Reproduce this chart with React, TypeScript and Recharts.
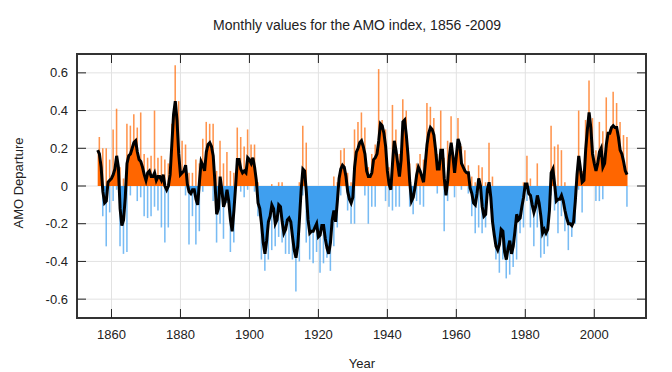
import { ComposedChart, Area, Bar, Line, XAxis, YAxis, CartesianGrid, ReferenceArea } from 'recharts';

// AMO index, smoothed curve every half year from 1856.0
const START_YEAR = 1856;
const smooth = [
    0.19, 0.17, 0.10, -0.03, -0.09, -0.08, 0.02, 0.03, // 1856-1859
    0.04, 0.06, 0.09, 0.16, 0.10, -0.12, -0.21, -0.18, -0.06, 0.12, // 1860-1864
    0.16, 0.17, 0.20, 0.23, 0.24, 0.18, 0.14, 0.13, 0.10, 0.06, // 1865-1869
    0.03, 0.07, 0.08, 0.05, 0.05, 0.07, 0.03, 0.05, 0.05, 0.03, // 1870-1874
    0.06, 0.00, -0.02, 0.00, 0.06, 0.22, 0.38, 0.45, 0.35, 0.17, // 1875-1879
    0.06, 0.07, 0.08, 0.11, 0.01, -0.03, -0.04, -0.02, -0.02, -0.07, // 1880-1884
    -0.10, 0.02, 0.13, 0.11, 0.08, 0.18, 0.22, 0.23, 0.21, 0.16, // 1885-1889
    0.02, -0.15, -0.12, 0.05, -0.02, -0.11, -0.08, -0.02, -0.08, -0.18, // 1890-1894
    -0.24, -0.13, 0.00, 0.14, 0.14, 0.09, 0.07, 0.08, 0.07, 0.15, // 1895-1899
    0.14, 0.12, 0.15, 0.10, 0.03, -0.09, -0.12, -0.20, -0.30, -0.36, // 1900-1904
    -0.29, -0.19, -0.16, -0.10, -0.12, -0.20, -0.18, -0.10, -0.11, -0.19, // 1905-1909
    -0.25, -0.23, -0.18, -0.17, -0.19, -0.27, -0.34, -0.38, -0.32, -0.18, // 1910-1914
    -0.02, 0.09, 0.08, -0.03, -0.18, -0.25, -0.24, -0.24, -0.22, -0.20, // 1915-1919
    -0.27, -0.26, -0.21, -0.21, -0.28, -0.33, -0.36, -0.30, -0.18, -0.13, // 1920-1924
    -0.19, -0.08, 0.04, 0.09, 0.11, 0.10, 0.05, -0.03, -0.07, -0.09, // 1925-1929
    -0.06, 0.10, 0.18, 0.20, 0.23, 0.24, 0.21, 0.17, 0.08, 0.05, // 1930-1934
    0.05, 0.07, 0.14, 0.15, 0.17, 0.24, 0.33, 0.32, 0.28, 0.21, // 1935-1939
    0.08, 0.01, -0.02, 0.12, 0.24, 0.19, 0.12, 0.05, 0.14, 0.34, // 1940-1944
    0.35, 0.27, 0.16, 0.02, -0.08, -0.06, -0.01, 0.06, 0.10, 0.08, // 1945-1949
    0.05, 0.02, 0.12, 0.22, 0.28, 0.31, 0.30, 0.27, 0.19, 0.09, // 1950-1954
    0.09, 0.19, 0.19, 0.04, -0.05, 0.03, 0.16, 0.23, 0.16, 0.07, // 1955-1959
    0.16, 0.25, 0.22, 0.12, 0.10, 0.08, 0.07, 0.07, -0.01, -0.04, // 1960-1964
    -0.09, -0.10, -0.04, 0.04, 0.00, -0.11, -0.16, -0.15, -0.02, 0.02, // 1965-1969
    -0.06, -0.19, -0.26, -0.32, -0.34, -0.31, -0.23, -0.24, -0.35, -0.39, // 1970-1974
    -0.33, -0.29, -0.36, -0.32, -0.24, -0.15, -0.18, -0.17, -0.11, -0.06, // 1975-1979
    0.01, 0.01, -0.04, -0.05, -0.10, -0.14, -0.11, -0.05, -0.09, -0.16, // 1980-1984
    -0.25, -0.23, -0.25, -0.23, -0.13, 0.07, 0.09, 0.01, -0.08, -0.07, // 1985-1989
    -0.07, -0.05, -0.08, -0.13, -0.17, -0.20, -0.20, -0.21, -0.19, -0.08, // 1990-1994
    0.06, 0.16, 0.09, 0.02, 0.03, 0.19, 0.30, 0.39, 0.31, 0.17, // 1995-1999
    0.12, 0.08, 0.12, 0.18, 0.20, 0.10, 0.12, 0.22, 0.28, 0.28, // 2000-2004
    0.31, 0.32, 0.31, 0.31, 0.26, 0.19, 0.17, 0.13, 0.08, 0.06 // 2005-2009
];

// highest and lowest monthly value in each year, 1856-2009
const monthlyHigh = [
    0.26, 0.20, 0.20, 0.14,
    0.30, 0.41, 0.10, 0.04, 0.33, 0.32, 0.38, 0.31, 0.39, 0.17,
    0.15, 0.16, 0.40, 0.15, 0.16, 0.14, 0.12, 0.33, 0.64, 0.45,
    0.24, 0.22, 0.07, 0.07, 0.14, 0.12, 0.25, 0.34, 0.33, 0.33,
    0.08, 0.24, 0.12, 0.18, 0.08, 0.07, 0.31, 0.26, 0.21, 0.30,
    0.22, 0.22, 0.02, 0.00, 0.00, 0.00, 0.01, 0.00, 0.02, 0.02,
    0.00, 0.00, 0.00, 0.00, 0.02, 0.32, 0.23, 0.00, 0.00, 0.00,
    0.00, 0.00, 0.00, 0.00, 0.05, 0.02, 0.19, 0.20, 0.07, 0.02,
    0.30, 0.34, 0.39, 0.31, 0.10, 0.17, 0.22, 0.62, 0.35, 0.30,
    0.10, 0.43, 0.30, 0.17, 0.46, 0.40, 0.12, 0.00, 0.12, 0.17,
    0.14, 0.44, 0.42, 0.36, 0.17, 0.40, 0.15, 0.24, 0.37, 0.15,
    0.36, 0.21, 0.19, 0.11, 0.05, 0.02, 0.11, 0.10, 0.02, 0.23,
    0.05, 0.00, 0.00, 0.00, 0.00, 0.00, 0.00, 0.00, 0.00, 0.02,
    0.16, 0.04, 0.00, 0.12, 0.00, 0.00, 0.00, 0.32, 0.21, 0.22,
    0.19, 0.02, 0.00, 0.00, 0.00, 0.40, 0.08, 0.35, 0.56, 0.36,
    0.19, 0.34, 0.29, 0.47, 0.30, 0.50, 0.44, 0.34, 0.27, 0.26
];
const monthlyLow = [
    0.00, -0.16, -0.32, -0.14,
    -0.08, -0.02, -0.32, -0.36, -0.35, -0.05, 0.00, -0.08, -0.06, -0.16,
    -0.17, -0.16, -0.11, -0.13, -0.22, -0.30, -0.22, 0.00, 0.00, 0.00,
    0.00, -0.05, -0.31, -0.16, -0.31, -0.24, -0.03, 0.00, 0.00, -0.08,
    -0.30, -0.20, -0.28, -0.09, -0.35, -0.30, 0.00, -0.03, -0.06, -0.02,
    0.00, -0.03, -0.16, -0.39, -0.45, -0.39, -0.34, -0.32, -0.27, -0.30,
    -0.36, -0.36, -0.39, -0.56, -0.40, -0.05, -0.30, -0.39, -0.41, -0.35,
    -0.46, -0.41, -0.38, -0.45, -0.32, -0.22, -0.05, 0.00, -0.13, -0.20,
    -0.20, 0.00, 0.00, -0.05, -0.20, -0.11, -0.11, 0.00, 0.00, -0.08,
    -0.11, -0.13, -0.11, -0.11, 0.00, 0.00, -0.11, -0.15, -0.08, -0.10,
    -0.11, 0.00, 0.00, 0.00, -0.04, 0.00, -0.24, -0.08, 0.00, -0.06,
    0.00, -0.02, 0.00, -0.04, -0.16, -0.25, -0.22, -0.25, -0.22, -0.02,
    -0.18, -0.39, -0.46, -0.39, -0.49, -0.47, -0.43, -0.39, -0.25, -0.22,
    -0.08, -0.22, -0.32, -0.22, -0.38, -0.36, -0.32, -0.05, -0.13, -0.25,
    -0.16, -0.24, -0.34, -0.27, -0.20, -0.02, -0.14, 0.00, 0.00, 0.00,
    -0.08, -0.08, -0.07, 0.00, 0.00, 0.00, 0.00, 0.00, 0.00, -0.11
];

const xTicks = [1860, 1880, 1900, 1920, 1940, 1960, 1980, 2000];
const yTicks = [-0.6, -0.4, -0.2, 0, 0.2, 0.4, 0.6];

const data = smooth.map((v, i) => {
    const yr = Math.floor(i / 2);
    return {
        t: START_YEAR + i * 0.5,
        smooth: v,
        monthly: i % 2 === 1 ? [monthlyLow[yr], monthlyHigh[yr]] : null
    };
});

const W = 672;
const H = 372;
const PLOT_TOP = 54;
const PLOT_BOTTOM = 318;
const PLOT_LEFT = 77;
const PLOT_RIGHT = 646;
const FONT = '"Liberation Sans", Arial, sans-serif';
const ORANGE = '#ff6600';
const BLUE = '#3f9fef';

const XTick = (props: any) => {
    const { x, y, payload } = props;
    return (
        <g>
            <line x1={x} x2={x} y1={PLOT_BOTTOM} y2={PLOT_BOTTOM - 9} stroke="#222" />
            <line x1={x} x2={x} y1={PLOT_TOP} y2={PLOT_TOP + 9} stroke="#222" />
            <text x={x} y={y} dy="0.71em" textAnchor="middle" fill="#222" fontSize={13} fontFamily={FONT}>
                {payload.value}
            </text>
        </g>
    );
};

const YTick = (props: any) => {
    const { x, y, payload } = props;
    const v = payload.value;
    return (
        <g>
            <line x1={PLOT_LEFT} x2={PLOT_LEFT + 9} y1={y} y2={y} stroke="#222" />
            <line x1={PLOT_RIGHT} x2={PLOT_RIGHT - 9} y1={y} y2={y} stroke="#222" />
            <text x={x} y={y} dy="0.355em" textAnchor="end" fill="#222" fontSize={13} fontFamily={FONT}>
                {Math.abs(v) < 1e-9 ? '0' : v.toFixed(1)}
            </text>
        </g>
    );
};

export default function App() {
    return (
        <div style={{ position: 'absolute', left: 0, top: 0, width: W, height: H, background: '#fff' }}>
            <ComposedChart
                width={W}
                height={H}
                data={data}
                margin={{ top: PLOT_TOP, right: W - PLOT_RIGHT, bottom: 0, left: 0 }}
            >
                <defs>
                    <linearGradient id="signFill" gradientUnits="userSpaceOnUse" x1="0" y1={PLOT_TOP} x2="0" y2={PLOT_BOTTOM}>
                        <stop offset="50%" stopColor={ORANGE} />
                        <stop offset="50%" stopColor={BLUE} />
                    </linearGradient>
                </defs>
                <CartesianGrid stroke="#e2e2e2" />
                <XAxis
                    dataKey="t"
                    type="number"
                    domain={[1850, 2015]}
                    ticks={xTicks}
                    height={PLOT_TOP}
                    axisLine={false}
                    tickLine={false}
                    tickSize={6}
                    tickMargin={6}
                    tick={<XTick />}
                    allowDataOverflow
                />
                <YAxis
                    type="number"
                    domain={[-0.7, 0.7]}
                    ticks={yTicks}
                    width={PLOT_LEFT}
                    axisLine={false}
                    tickLine={false}
                    tickSize={6}
                    tickMargin={3}
                    tick={<YTick />}
                    allowDataOverflow
                />
                <Bar dataKey="monthly" fill="url(#signFill)" fillOpacity={0.7} barSize={2} isAnimationActive={false} />
                <Area
                    dataKey="smooth"
                    type="linear"
                    baseValue={0}
                    stroke="none"
                    fill="url(#signFill)"
                    fillOpacity={1}
                    isAnimationActive={false}
                />
                <Line dataKey="smooth" type="linear" stroke="#000" strokeWidth={3} dot={false} isAnimationActive={false} />
                <ReferenceArea x1={1850} x2={2015} y1={-0.7} y2={0.7} fill="none" stroke="#333" strokeWidth={2} ifOverflow="visible" />
            </ComposedChart>
            <svg width={W} height={H} style={{ position: 'absolute', left: 0, top: 0, pointerEvents: 'none' }}>
                <text x={357} y={30} textAnchor="middle" fontSize={14} fontFamily={FONT} fill="#222">
                    Monthly values for the AMO index, 1856 -2009
                </text>
                <text x={362} y={368} textAnchor="middle" fontSize={13} fontFamily={FONT} fill="#222">
                    Year
                </text>
                <text
                    x={0}
                    y={0}
                    transform="translate(23, 183) rotate(-90)"
                    textAnchor="middle"
                    fontSize={13}
                    fontFamily={FONT}
                    fill="#222"
                >
                    AMO Departure
                </text>
            </svg>
        </div>
    );
}
